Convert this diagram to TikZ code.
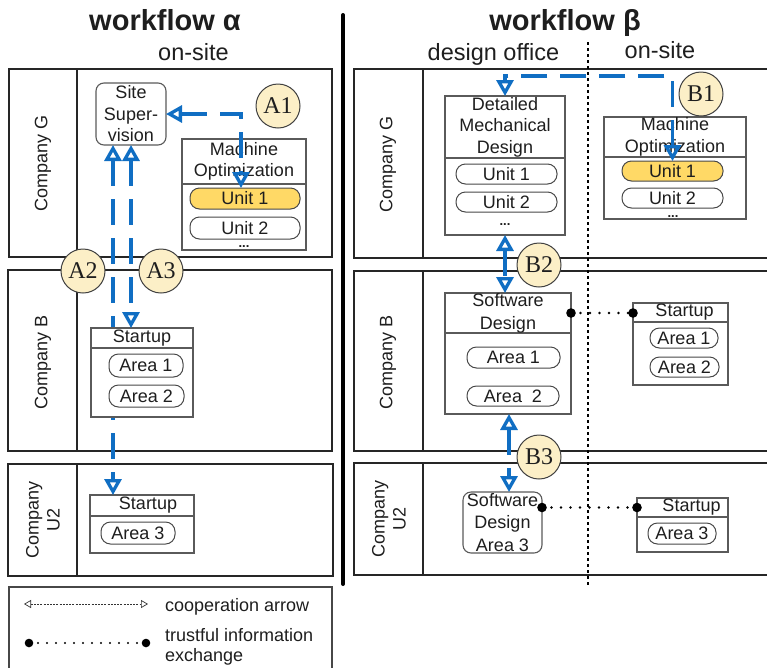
\documentclass[tikz,border=0pt]{standalone}
\usepackage{fontspec}
\setmainfont{Liberation Sans}
\newfontfamily\badgefont{Liberation Serif}
\usetikzlibrary{arrows.meta}

\definecolor{coopblue}{RGB}{16,110,195}
\definecolor{unitgold}{RGB}{255,217,102}
\definecolor{badgefill}{RGB}{252,239,199}
\definecolor{lanegray}{RGB}{38,38,38}
\definecolor{boxgray}{RGB}{90,90,90}
\definecolor{inkgray}{RGB}{30,30,30}

\newcommand{\bxfont}{\fontsize{18}{21.5}\selectfont}
\newcommand{\lnfont}{\fontsize{18}{21}\selectfont}

\tikzset{
  lane/.style={draw=lanegray, line width=1.8pt},
  box/.style={draw=boxgray, line width=1.1pt, fill=white, inner sep=0pt, outer sep=0pt, anchor=north west, text=inkgray},
  hdr/.style={box, align=center, font=\bxfont},
  pill/.style={draw=boxgray!80!black, line width=1pt, fill=white, rounded corners=9.5pt, inner sep=0pt, outer sep=0pt, font=\bxfont, text=inkgray},
  goldpill/.style={pill, fill=unitgold},
  badge/.style={circle, draw=black!75, line width=1pt, fill=badgefill, minimum size=44pt, inner sep=0pt, text=inkgray, font=\badgefont\fontsize{24}{24}\selectfont},
  coop/.style={draw=coopblue, line width=3.3pt, dash pattern=on 26pt off 13pt, >={Triangle[open,length=16pt,width=17pt]}, <->},
  legcoop/.style={draw=black!80, line width=0.7pt, dash pattern=on 2pt off 1.2pt, >={Triangle[open,length=7pt,width=8pt]}, <->},
  info/.style={draw=black, line width=2.8pt, line cap=round, dash pattern=on 0pt off 9.5pt},
  lanelabel/.style={rotate=90, font=\lnfont, align=center, text=inkgray, inner sep=0pt},
  dotsrow/.style={font=\fontsize{13}{13}\selectfont\bfseries, anchor=base, inner sep=0pt, text=inkgray},
  plain/.style={inner sep=0pt, text=inkgray}
}

\begin{document}
\begin{tikzpicture}[x=1pt, y=-1pt]
\useasboundingbox (0,0) rectangle (767,667);

% ---------- headings ----------
\node[plain, anchor=base, font=\bfseries\fontsize{29}{29}\selectfont] (titleA) at (165,30) {workflow α};
\node[plain, anchor=base, font=\bfseries\fontsize{29}{29}\selectfont] (titleB) at (565,30) {workflow β};
\node[plain, anchor=base, font=\fontsize{23.5}{24}\selectfont] (siteA) at (193.5,60) {on-site};
\node[plain, anchor=base, font=\fontsize{23.5}{24}\selectfont] (office) at (493.5,60) {design office};
\node[plain, anchor=base, font=\fontsize{23.5}{24}\selectfont] (siteB) at (660,58.5) {on-site};

% ---------- swim lanes ----------
\draw[lane] (9,69) rectangle (332,257) (77,69) -- (77,257);
\draw[lane] (8,270) rectangle (332,451) (77,270) -- (77,451);
\draw[lane] (8,464) rectangle (333,576) (77,464) -- (77,576);
\draw[lane] (354,69) rectangle (780,258) (423,69) -- (423,258);
\draw[lane] (354,271) rectangle (780,451) (423,271) -- (423,451);
\draw[lane] (354,463) rectangle (780,575) (423,463) -- (423,575);

\node[lanelabel] (labGa) at (43,163) {Company G};
\node[lanelabel] (labBa) at (43,362) {Company B};
\node[lanelabel] (labUa) at (43,520) {Company\\U2};
\node[lanelabel] (labGb) at (388,164) {Company G};
\node[lanelabel] (labBb) at (388,362) {Company B};
\node[lanelabel] (labUb) at (389,519) {Company\\U2};

% separators between the workflows and between office / site
\draw[line width=4pt, line cap=round] (343,15) -- (343,584);
\draw[line width=2pt, dash pattern=on 3pt off 3pt] (588,42) -- (588,585);

% ---------- workflow alpha, Company G ----------
\node[box, rounded corners=8pt, minimum width=70pt, minimum height=62pt, align=center, font=\bxfont] (sup) at (96,83) {Site\\Super-\\vision};
\node[box, minimum width=124pt, minimum height=111pt] (gmo) at (182,139) {};
\node[hdr, minimum width=124pt, minimum height=45pt] (gmoh) at (182,139) {Machine\\Optimization};
\node[goldpill, minimum width=110pt, minimum height=21pt] (gu1) at (245,198.5) {Unit 1};
\node[pill, minimum width=110pt, minimum height=22pt] (gu2) at (245,228) {Unit 2};
\node[dotsrow] (gdots) at (244,247) {...};

% ---------- workflow alpha, Company U2 ----------
\node[box, minimum width=104pt, minimum height=58pt] (ust) at (90,495) {};
\node[hdr, minimum width=104pt, minimum height=21pt] (usth) at (90,495) {\hspace*{12pt}Startup};
\node[pill, minimum width=74pt, minimum height=22pt] (ua3) at (138,533) {Area 3};

% cooperation A2 runs behind the Company B startup box
\draw[coop] ([xshift=-18pt]sup.south) -- ([xshift=-18pt]sup.south |- ust.north);

% ---------- workflow alpha, Company B ----------
\node[box, minimum width=102pt, minimum height=89pt] (bst) at (91,328) {};
\node[hdr, minimum width=102pt, minimum height=20pt] (bsth) at (91,328) {Startup};
\node[pill, minimum width=74pt, minimum height=23pt] (ba1) at (146,365.5) {Area 1};
\node[pill, minimum width=75pt, minimum height=22pt] (ba2) at (146.5,396) {Area 2};

% cooperation A1 and A3
\draw[coop] (sup.east) -| ([xshift=-4pt]gu1.north);
\draw[coop] (sup.south) -- (sup.south |- bst.north);

% ---------- workflow beta, Company G ----------
\node[box, minimum width=120pt, minimum height=139pt] (dmd) at (445,96) {};
\node[hdr, minimum width=120pt, minimum height=62pt] (dmdh) at (445,96) {Detailed\\Mechanical\\Design};
\node[pill, minimum width=101pt, minimum height=20pt] (du1) at (506.5,174) {Unit 1};
\node[pill, minimum width=101pt, minimum height=20pt] (du2) at (506.5,202) {Unit 2};
\node[dotsrow] (ddots) at (505,225) {...};

\node[box, minimum width=142pt, minimum height=102pt] (rmo) at (604,117) {};
\node[hdr, minimum width=142pt, minimum height=40pt] (rmoh) at (604,117) {Machine\\Optimization};
\node[goldpill, minimum width=101pt, minimum height=20pt] (ru1) at (672.5,171) {Unit 1};
\node[pill, minimum width=101pt, minimum height=20pt] (ru2) at (672.5,198) {Unit 2};
\node[dotsrow] (rdots) at (673,217) {...};

% ---------- workflow beta, Company B ----------
\node[box, minimum width=126pt, minimum height=121pt] (sd) at (445,293) {};
\node[hdr, minimum width=126pt, minimum height=40pt, font=\fontsize{18}{23}\selectfont] (sdh) at (445,293) {Software\\Design};
\node[pill, minimum width=93pt, minimum height=21pt] (sa1) at (513.5,357.5) {Area 1};
\node[pill, minimum width=92pt, minimum height=20pt] (sa2) at (513,396) {Area~~2};

\node[box, minimum width=95pt, minimum height=82pt] (rst) at (633,303) {};
\node[hdr, minimum width=95pt, minimum height=19pt] (rsth) at (633,303) {\hspace*{8pt}Startup};
\node[pill, minimum width=68pt, minimum height=20pt] (ra1) at (684,338) {Area 1};
\node[pill, minimum width=69pt, minimum height=20pt] (ra2) at (684.5,367) {Area 2};

% ---------- workflow beta, Company U2 ----------
\node[box, rounded corners=8pt, minimum width=79pt, minimum height=61pt, align=center, font=\fontsize{18}{22.5}\selectfont] (usd) at (463,492) {Software\\Design\\Area 3};
\node[box, minimum width=91pt, minimum height=54pt] (rs2) at (637,498) {};
\node[hdr, minimum width=91pt, minimum height=19pt] (rs2h) at (637,498) {\hspace*{18pt}Startup};
\node[pill, minimum width=68pt, minimum height=21pt] (ra3) at (682,533.5) {Area 3};

% cooperation B1, B2, B3
\draw[coop] (ru1.north) -- ++(0,-85) -| (dmd.north);
\draw[coop] (dmd.south) -- (dmd.south |- sd.north);
\draw[coop] ([xshift=1pt]sd.south) -- ([xshift=1pt]sd.south |- usd.north);

% trustful information exchange
\draw[info] (sdh.east) -- (sdh.east -| rsth.west);
\fill (sdh.east) circle[radius=4.8pt] (sdh.east -| rsth.west) circle[radius=4.8pt];
\draw[info] (usd.east |- rs2h.west) -- (rs2h.west);
\fill (usd.east |- rs2h.west) circle[radius=4.8pt] (rs2h.west) circle[radius=4.8pt];

% ---------- step badges ----------
\node[badge] (A1) at (278,106) {A1};
\node[badge] (A2) at (83,271) {A2};
\node[badge] (A3) at (161,271) {A3};
\node[badge] (B1) at (701,94) {B1};
\node[badge] (B2) at (539,265) {B2};
\node[badge] (B3) at (539,457) {B3};

% ---------- legend ----------
\draw[draw=lanegray!85, line width=1.5pt] (9,587) rectangle (332,690);
\coordinate (lgA) at (24,604);
\coordinate (lgB) at (148,604);
\draw[legcoop] (lgA) -- (lgB);
\node[plain, anchor=base west, font=\bxfont] (lgT1) at (165,611.5) {cooperation arrow};
\coordinate (lgC) at (29,643);
\coordinate (lgD) at (146,643);
\draw[info, line width=2.2pt, dash pattern=on 0pt off 9pt] (lgC) -- (lgD);
\fill (lgC) circle[radius=4.3pt] (lgD) circle[radius=4.3pt];
\node[plain, anchor=base west, font=\bxfont] (lgT2) at (165,641) {trustful information};
\node[plain, anchor=base west, font=\bxfont] (lgT3) at (165,661.5) {exchange};
\end{tikzpicture}
\end{document}
